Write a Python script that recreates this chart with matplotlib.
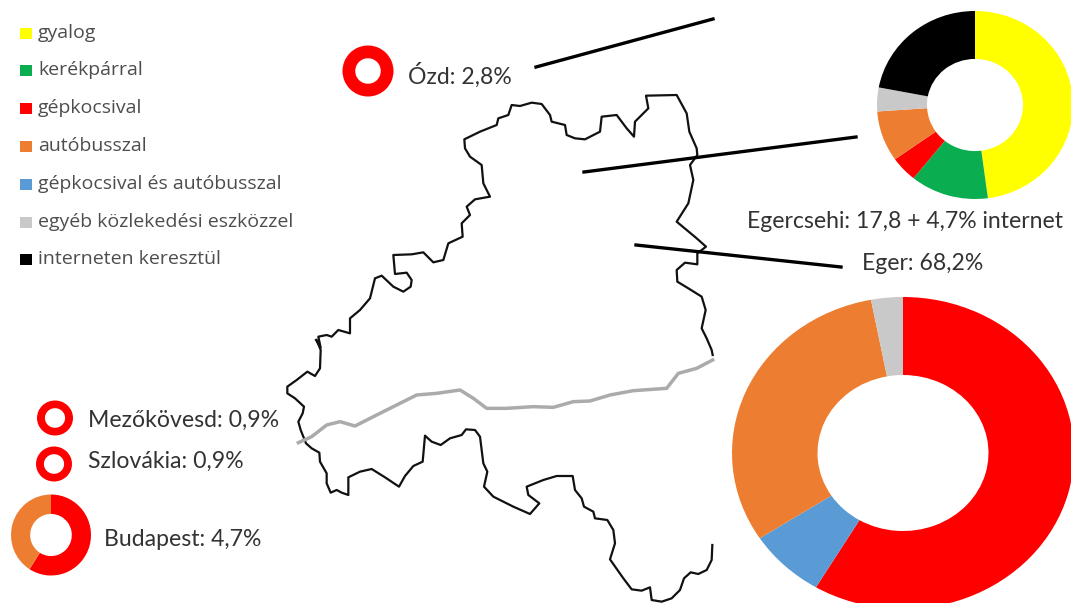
import matplotlib
matplotlib.use("Agg")
import matplotlib.pyplot as plt

plt.rcParams['font.family'] = ['Lato', 'DejaVu Sans']

W, H = 1071, 603

YELLOW = "#ffff00"
GREEN = "#0aad50"
RED = "#ff0000"
ORANGE = "#ed7d31"
BLUE = "#5b9bd5"
GREY = "#c9c9c9"
BLACK = "#000000"

legend_labels = ["gyalog", "kerékpárral", "gépkocsival", "autóbusszal",
                 "gépkocsival és autóbusszal", "egyéb közlekedési eszközzel",
                 "interneten keresztül"]
legend_colors = [YELLOW, GREEN, RED, ORANGE, BLUE, GREY, BLACK]
legend_y = [33, 70, 108, 146, 184, 222, 259]

# shares of the donuts, clockwise from 12 o'clock
egercsehi_values = [47.9, 12.9, 4.4, 8.7, 4.1, 22]
egercsehi_colors = [YELLOW, GREEN, RED, ORANGE, GREY, BLACK]
eger_values = [58.5, 7.3, 31.2, 3]
eger_colors = [RED, BLUE, ORANGE, GREY]
budapest_values = [59, 41]
budapest_colors = [RED, ORANGE]
single_values = [100]
single_colors = [RED]

# county border (pixels)
border_north = [(108, 780), (122, 803), (115, 770), (140, 765), (155, 770), (175, 750), (210, 760),
                (210, 715), (240, 690), (270, 655), (285, 595), (305, 587), (340, 620), (370, 635),
                (392, 620), (395, 600), (380, 578), (345, 582), (340, 525), (395, 523), (430, 517),
                (460, 547), (490, 540), (505, 490), (548, 470), (545, 430), (570, 405), (560, 380),
                (585, 358), (630, 350), (610, 310), (605, 255), (570, 230), (555, 205), (553, 178),
                (600, 155), (650, 135), (655, 115), (685, 105), (695, 75), (720, 78), (755, 68),
                (785, 72), (810, 105), (815, 125), (855, 135), (860, 165), (885, 175), (915, 178),
                (960, 155), (965, 110), (1010, 105), (1040, 145), (1062, 170), (1065, 125),
                (1105, 85), (1098, 47), (1190, 45), (1220, 100), (1228, 155), (1250, 205),
                (1252, 225), (1230, 255), (1240, 300), (1225, 370), (1190, 425), (1250, 475),
                (1278, 500), (1252, 520), (1252, 553), (1215, 548), (1190, 570), (1192, 605),
                (1225, 625), (1265, 650), (1277, 690), (1265, 745), (1280, 775), (1295, 810),
                (1298, 825)]
border_south = [(110, 0), (122, 30), (120, 85), (105, 108), (82, 95), (50, 120), (22, 140), (22, 160),
                (45, 175), (72, 200), (68, 220), (55, 245), (62, 270), (78, 310), (95, 325),
                (118, 338), (120, 365), (140, 400), (140, 430), (152, 458), (170, 450), (185, 458),
                (205, 465), (205, 412), (240, 395), (275, 387), (315, 412), (357, 440), (375, 408),
                (400, 378), (428, 365), (435, 287), (455, 305), (482, 315), (510, 295), (545, 285),
                (558, 268), (585, 270), (600, 290), (610, 370), (622, 395), (612, 440), (640, 470),
                (700, 500), (750, 522), (778, 490), (745, 465), (740, 440), (790, 420), (830, 408),
                (878, 408), (885, 450), (905, 475), (912, 500), (940, 515), (945, 535), (982, 540),
                (1000, 570), (1005, 610), (990, 658), (1030, 715), (1055, 748), (1085, 752),
                (1110, 742), (1115, 780), (1145, 785), (1175, 775), (1200, 750), (1212, 715),
                (1232, 697), (1255, 702), (1280, 690), (1295, 660), (1297, 615)]
grey_line = [(55, 308), (95, 290), (140, 255), (180, 245), (225, 258), (300, 220), (370, 185),
             (410, 165), (470, 160), (540, 150), (580, 175), (620, 205), (680, 205), (760, 200),
             (820, 202), (880, 185), (930, 183), (990, 165), (1060, 152), (1160, 145), (1195, 100),
             (1250, 85), (1298, 60)]


def to_pixels(points, x0, y0):
    return [x0 + p[0] / 3 for p in points], [y0 + p[1] / 3 for p in points]


def donut(values, colors, cx, cy, rx, ry, hole):
    # each donut gets its own axes, some of them are a bit squashed in the picture
    a = fig.add_axes([(cx - rx) / W, 1 - (cy + ry) / H, 2 * rx / W, 2 * ry / H])
    a.pie(values, colors=colors, radius=1, startangle=90, counterclock=False,
          wedgeprops=dict(width=1 - hole, linewidth=0))
    a.set_aspect("auto")
    a.set_xlim(-1, 1)
    a.set_ylim(-1, 1)
    a.axis("off")


fig = plt.figure(figsize=(10.71, 6.03), dpi=100)
ax = fig.add_axes([0, 0, 1, 1])

x, y = to_pixels(border_north, 280, 80)
ax.plot(x, y, color="#111111", lw=1.6, solid_joinstyle="round")
x, y = to_pixels(border_south, 280, 340)
ax.plot(x, y, color="#111111", lw=1.6, solid_joinstyle="round")
x, y = to_pixels(grey_line, 280, 340)
ax.plot(x, y, color="#ababab", lw=2.5)

ax.plot([536, 713], [67, 19], color="black", lw=2.4)
ax.plot([584, 856], [172, 137], color="black", lw=2.4)
ax.plot([636, 841], [245, 267], color="black", lw=2.4)

for label, color, ly in zip(legend_labels, legend_colors, legend_y):
    ax.add_patch(plt.Rectangle((20, ly - 5.5), 12, 11, color=color, lw=0))
    ax.text(38, ly, label, fontsize=14, color="#4d4d4d", va="center", ha="left",
            family=["Open Sans", "DejaVu Sans"])

for txt, tx, ty in [("Ózd: 2,8%", 408, 75), ("Egercsehi: 17,8 + 4,7% internet", 747, 221),
                    ("Eger: 68,2%", 862, 263), ("Mezőkövesd: 0,9%", 88, 420),
                    ("Szlovákia: 0,9%", 88, 461), ("Budapest: 4,7%", 104, 539)]:
    ax.text(tx, ty, txt, fontsize=16.6, color="#333333", va="center", ha="left")

ax.set_xlim(0, W)
ax.set_ylim(H, 0)
ax.axis("off")

donut(egercsehi_values, egercsehi_colors, 975, 105, 98, 94, 0.49)
donut(eger_values, eger_colors, 903, 453, 171, 156, 0.5)
donut(budapest_values, budapest_colors, 51, 535, 40, 40.5, 0.52)
donut(single_values, single_colors, 368, 71, 25.5, 25.5, 0.5)
donut(single_values, single_colors, 55, 418, 18, 17.5, 0.56)
donut(single_values, single_colors, 54, 464, 18, 17.5, 0.56)

fig.savefig("out.png", dpi=100)
